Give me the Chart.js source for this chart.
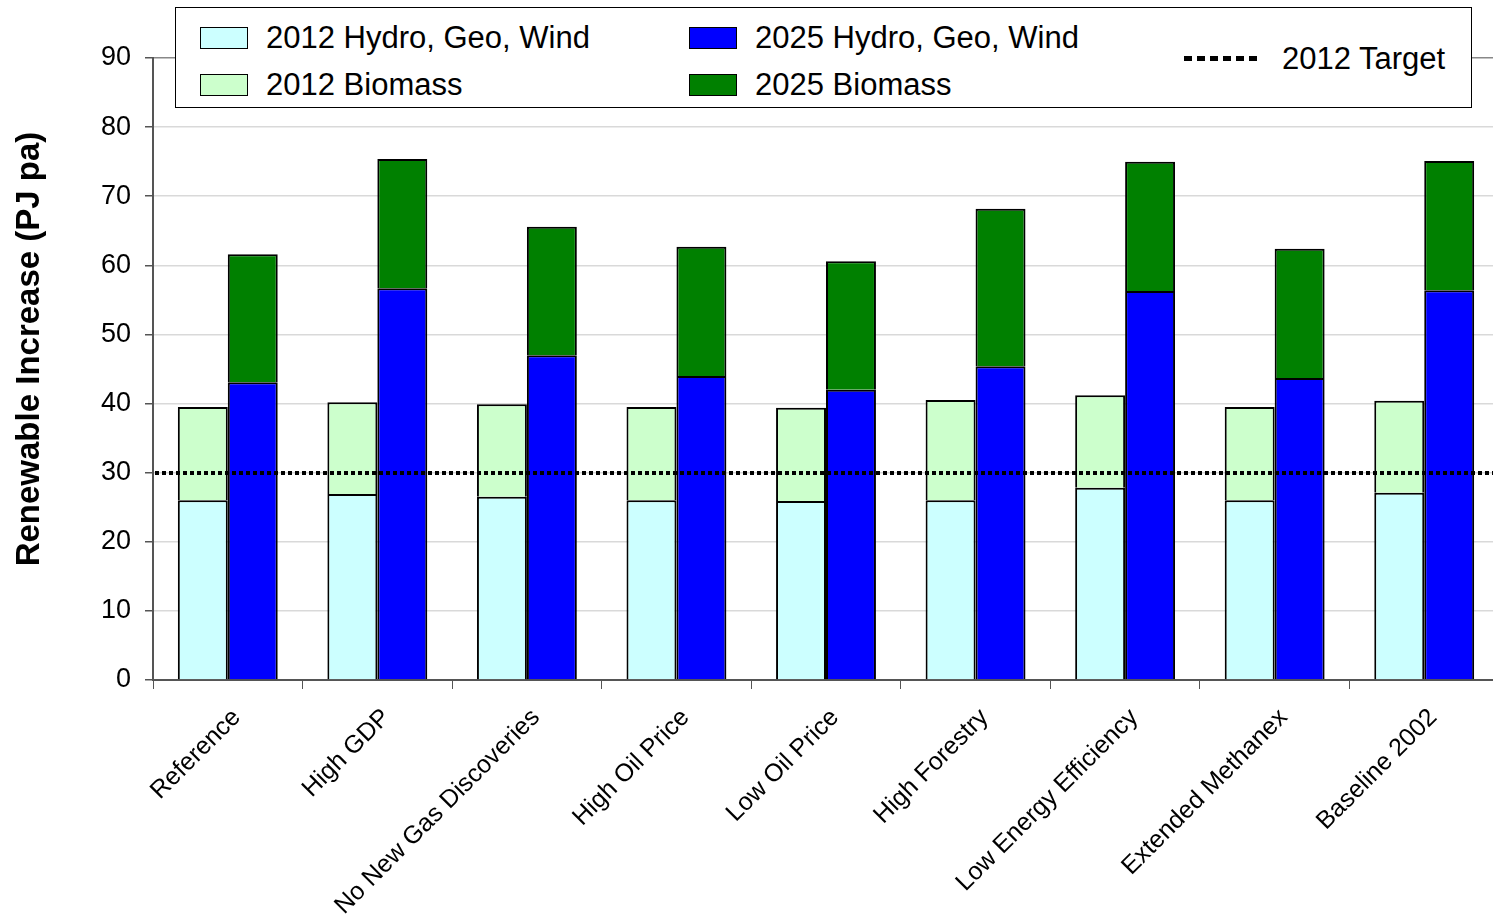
<!DOCTYPE html>
<html>
<head>
<meta charset="utf-8">
<script src="https://cdn.jsdelivr.net/npm/chart.js@4.4.1/dist/chart.umd.min.js"></script>
<style>
    html, body { margin: 0; padding: 0; background: #fff; overflow: hidden; }
    #wrap { position: relative; width: 1500px; height: 923px; }
    #legend {
        position: absolute; left: 175px; top: 7px; width: 1295px; height: 99px;
        border: 1.5px solid #000; background: #fff;
        font-family: 'Liberation Sans', Arial, sans-serif; font-size: 31px; color: #000;
    }
    .item { position: absolute; height: 34px; line-height: 34px; white-space: nowrap; }
    .swatch { position: absolute; width: 46px; height: 20px; border: 1.5px solid #000; }
    .dots {
        position: absolute; width: 75px; height: 5px;
        background: repeating-linear-gradient(to right, #000 0 8px, transparent 8px 13px);
    }
</style>
</head>
<body>
<div id="wrap">
    <canvas id="chart" width="1500" height="923"></canvas>
    <div id="legend"></div>
</div>
<script>
const categories = ['Reference', 'High GDP', 'No New Gas Discoveries', 'High Oil Price', 'Low Oil Price',
    'High Forestry', 'Low Energy Efficiency', 'Extended Methanex', 'Baseline 2002'];

const hydro2012   = [26.0, 26.9, 26.5, 26.0, 25.9, 26.0, 27.8, 26.0, 27.1];
const biomass2012 = [13.5, 13.3, 13.4, 13.5, 13.5, 14.5, 13.4, 13.5, 13.3];
const hydro2025   = [43.1, 56.7, 47.0, 44.0, 42.0, 45.4, 56.3, 43.7, 56.4];
const biomass2025 = [18.5, 18.7, 18.6, 18.7, 18.6, 22.8, 18.7, 18.7, 18.7];

const targetValue = 30;
const targetLabel = '2012 Target';
const yTicks = [0, 10, 20, 30, 40, 50, 60, 70, 80, 90];

const FONT = "'Liberation Sans', Arial, sans-serif";

const datasets = [
    { label: '2012 Hydro, Geo, Wind', data: hydro2012, stack: '2012', backgroundColor: '#CCFFFF' },
    { label: '2012 Biomass', data: biomass2012, stack: '2012', backgroundColor: '#CCFFCC' },
    { label: '2025 Hydro, Geo, Wind', data: hydro2025, stack: '2025', backgroundColor: '#0000FF' },
    { label: '2025 Biomass', data: biomass2025, stack: '2025', backgroundColor: '#008000' }
].map(d => Object.assign(d, {
    borderColor: '#000',
    borderWidth: 2,
    categoryPercentage: 0.668,
    barPercentage: 1.0
}));

// dotted target line across the plot
const targetLine = {
    id: 'targetLine',
    afterDatasetsDraw(chart) {
        const { ctx, chartArea, scales } = chart;
        const y = Math.round(scales.y.getPixelForValue(targetValue));
        ctx.save();
        ctx.strokeStyle = '#000';
        ctx.lineWidth = 4;
        ctx.setLineDash([4, 3]);
        ctx.beginPath();
        ctx.moveTo(chartArea.left + 2, y);
        ctx.lineTo(chartArea.right, y);
        ctx.stroke();
        ctx.restore();
    }
};

// y axis title, placed like the original (a bit above centre)
const yTitle = {
    id: 'yTitle',
    afterDraw(chart) {
        const ctx = chart.ctx;
        ctx.save();
        ctx.translate(30, 349);
        ctx.rotate(-Math.PI / 2);
        ctx.font = "bold 33px " + FONT;
        ctx.fillStyle = '#000';
        ctx.textAlign = 'center';
        ctx.textBaseline = 'middle';
        ctx.fillText('Renewable Increase (PJ pa)', 0, 0);
        ctx.restore();
    }
};

new Chart(document.getElementById('chart'), {
    type: 'bar',
    data: { labels: categories, datasets: datasets },
    options: {
        responsive: false,
        animation: false,
        devicePixelRatio: 1,
        layout: { padding: { top: 58, right: 1, left: 0, bottom: 0 } },
        plugins: { legend: { display: false }, tooltip: { enabled: false } },
        scales: {
            x: {
                stacked: true,
                afterFit: s => { s.height = 243; },
                border: { display: true, color: '#555', width: 2 },
                grid: { display: true, drawOnChartArea: false, drawTicks: true, tickLength: 9, color: '#555', offset: true },
                ticks: {
                    color: '#000', font: { family: FONT, size: 25 },
                    minRotation: 45, maxRotation: 45, autoSkip: false,
                    padding: 14, labelOffset: 9
                }
            },
            y: {
                stacked: true,
                min: 0, max: 90,
                afterFit: s => { s.width = 153; },
                afterBuildTicks: s => { s.ticks = yTicks.map(v => ({ value: v })); },
                border: { display: true, color: '#555', width: 2 },
                grid: {
                    color: c => (c.tick && c.tick.value === 90) ? '#888' : '#d9d9d9',
                    tickColor: '#555',
                    tickLength: 8,
                    lineWidth: 1.5
                },
                ticks: { color: '#000', font: { family: FONT, size: 27 }, padding: 14 }
            }
        }
    },
    plugins: [targetLine, yTitle]
});

// legend box, three columns like the original
const legend = document.getElementById('legend');
const places = [
    { left: 24, top: 13 },
    { left: 24, top: 60 },
    { left: 513, top: 13 },
    { left: 513, top: 60 }
];
datasets.forEach((d, i) => {
    const p = places[i];
    const sw = document.createElement('div');
    sw.className = 'swatch';
    sw.style.left = p.left + 'px';
    sw.style.top = (p.top + 6) + 'px';
    sw.style.background = d.backgroundColor;
    legend.appendChild(sw);
    const tx = document.createElement('div');
    tx.className = 'item';
    tx.style.left = (p.left + 66) + 'px';
    tx.style.top = p.top + 'px';
    tx.textContent = d.label;
    legend.appendChild(tx);
});
const dots = document.createElement('div');
dots.className = 'dots';
dots.style.left = '1008px';
dots.style.top = '48px';
legend.appendChild(dots);
const tt = document.createElement('div');
tt.className = 'item';
tt.style.left = '1106px';
tt.style.top = '34px';
tt.textContent = targetLabel;
legend.appendChild(tt);
</script>
</body>
</html>
